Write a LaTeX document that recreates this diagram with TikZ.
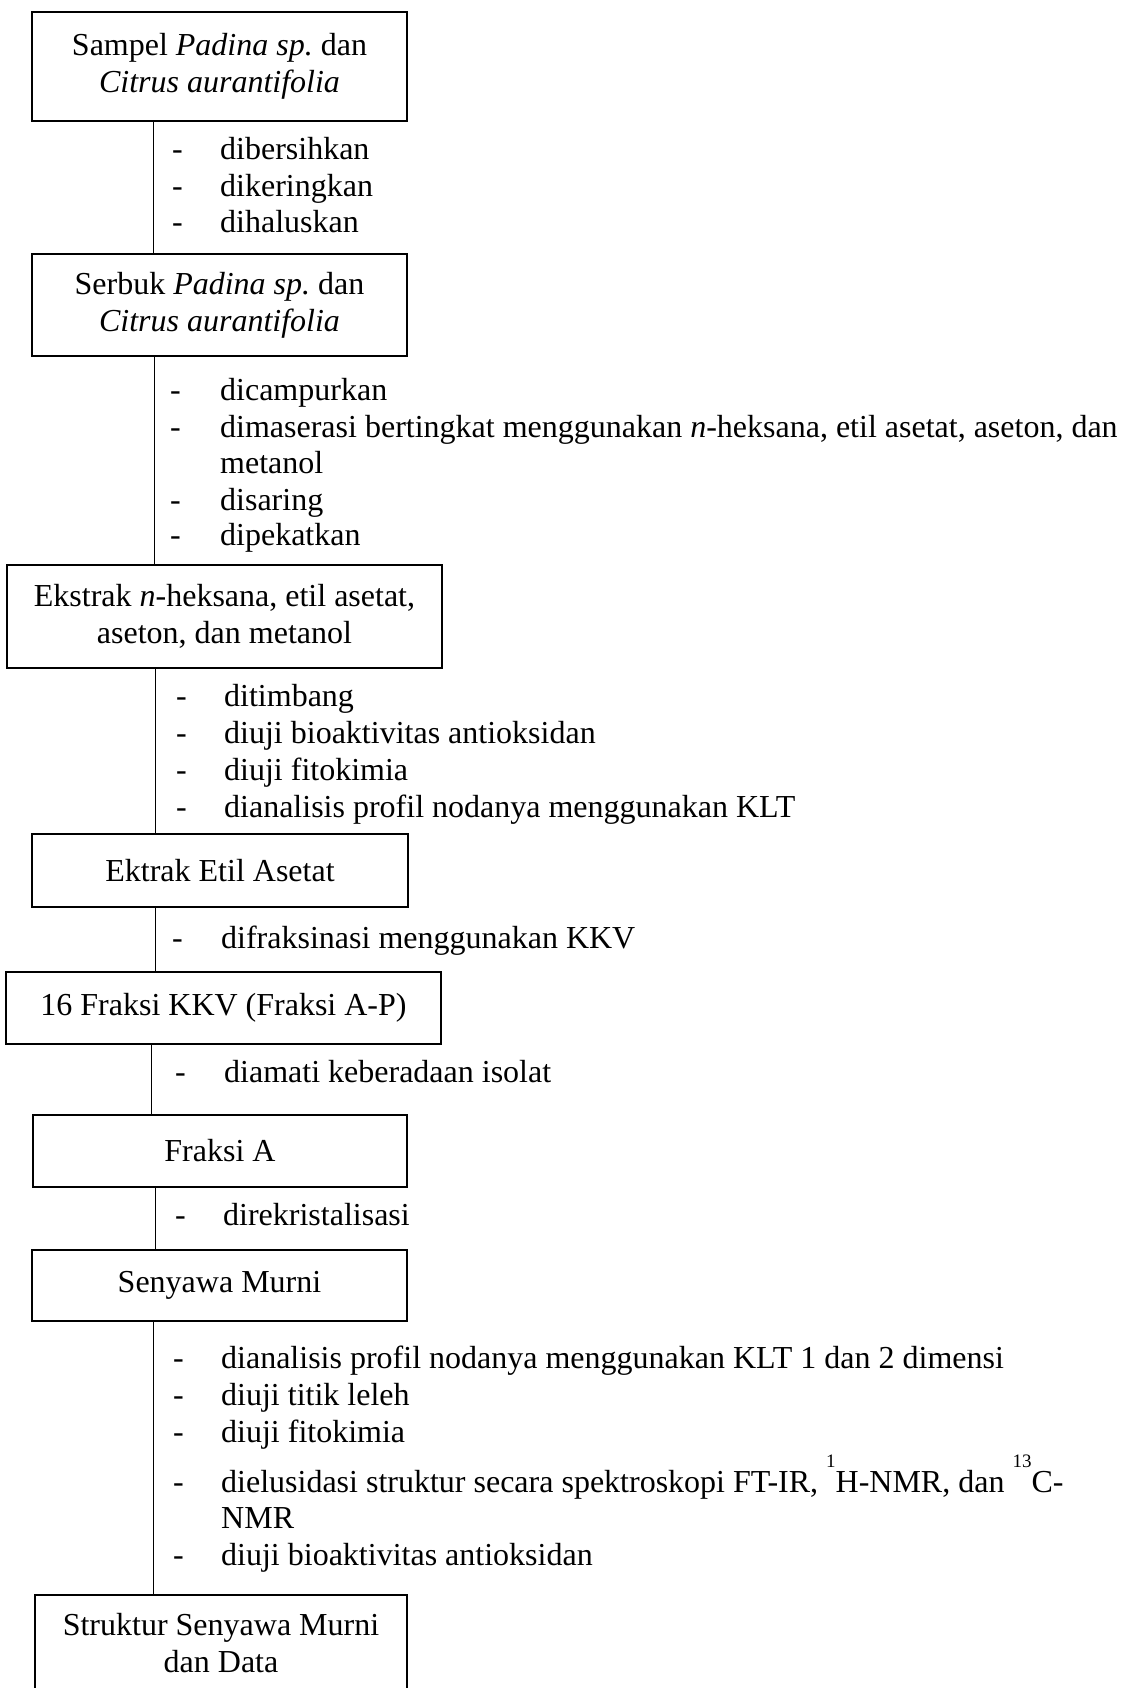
\documentclass[tikz,border=0pt]{standalone}
\usepackage{fontspec}
\setmainfont{Liberation Serif}
\frenchspacing
\newcommand{\dashitem}[2]{\makebox[#1][l]{-}#2}
\newcommand{\supnum}[1]{\raisebox{25pt}{\fontsize{19}{19}\selectfont #1}}
\begin{document}
\begin{tikzpicture}[x=1pt,y=-1pt,
  box/.style={draw, line width=1.6pt, inner sep=0pt, align=center, font=\fontsize{32}{37}\selectfont\frenchspacing},
  conn/.style={line width=1pt},
  li/.style={anchor=base west, inner sep=0pt, font=\fontsize{32}{37}\selectfont\frenchspacing}]
\useasboundingbox (0,0) rectangle (1122,1688);

% boxes
\node[box, minimum width=375pt, minimum height=109pt] (b1) at (219.5,66.5) {Sampel \textit{Padina sp.} dan\\ \textit{Citrus aurantifolia}};
\node[box, minimum width=375pt, minimum height=102pt] (b2) at (219.5,305) {Serbuk \textit{Padina sp.} dan\\ \textit{Citrus aurantifolia}};
\node[box, minimum width=435pt, minimum height=103pt] (b3) at (224.5,616.5) {Ekstrak \textit{n}-heksana, etil asetat,\\ aseton, dan metanol};
\node[box, minimum width=376pt, minimum height=73pt] (b4) at (220,870.5) {Ektrak Etil Asetat};
\node[box, minimum width=435pt, minimum height=72pt] (b5) at (223.5,1008) {16 Fraksi KKV (Fraksi A-P)};
\node[box, minimum width=374pt, minimum height=72pt] (b6) at (220,1151) {Fraksi A};
\node[box, minimum width=375pt, minimum height=71pt] (b7) at (219.5,1285.5) {Senyawa Murni};
\node[box, minimum width=372pt, minimum height=97pt] (b8) at (221,1643.5) {Struktur Senyawa Murni\\ dan Data};

% connectors
\draw[conn] ([xshift=-66.5pt]b1.south) -- ([xshift=-66.5pt]b2.north);
\draw[conn] ([xshift=-65.5pt]b2.south) -- ([xshift=-70.5pt]b3.north);
\draw[conn] ([xshift=-69.5pt]b3.south) -- ([xshift=-65pt]b4.north);
\draw[conn] ([xshift=-65pt]b4.south) -- ([xshift=-68.5pt]b5.north);
\draw[conn] ([xshift=-72.5pt]b5.south) -- ([xshift=-69pt]b6.north);
\draw[conn] ([xshift=-65pt]b6.south) -- ([xshift=-64.5pt]b7.north);
\draw[conn] ([xshift=-66.5pt]b7.south) -- ([xshift=-68pt]b8.north);

% list 1
\node[li] (l1a) at (172,160) {\dashitem{48pt}{dibersihkan}};
\node[li] (l1b) at (172,197) {\dashitem{48pt}{dikeringkan}};
\node[li] (l1c) at (172,233) {\dashitem{48pt}{dihaluskan}};
% list 2
\node[li] (l2a) at (170,400) {\dashitem{50pt}{dicampurkan}};
\node[li] (l2b) at (170,437) {\dashitem{50pt}{dimaserasi bertingkat menggunakan \textit{n}-heksana, etil asetat, aseton, dan}};
\node[li] (l2c) at (220,473) {metanol};
\node[li] (l2d) at (170,510) {\dashitem{50pt}{disaring}};
\node[li] (l2e) at (170,545) {\dashitem{50pt}{dipekatkan}};
% list 3
\node[li] (l3a) at (176,706) {\dashitem{48pt}{ditimbang}};
\node[li] (l3b) at (176,743) {\dashitem{48pt}{diuji bioaktivitas antioksidan}};
\node[li] (l3c) at (176,780) {\dashitem{48pt}{diuji fitokimia}};
\node[li] (l3d) at (176,817) {\dashitem{48pt}{dianalisis profil nodanya menggunakan KLT}};
% list 4
\node[li] (l4a) at (172,948) {\dashitem{49pt}{difraksinasi menggunakan KKV}};
% list 5
\node[li] (l5a) at (175,1082) {\dashitem{49pt}{diamati keberadaan isolat}};
% list 6
\node[li] (l6a) at (175,1225) {\dashitem{48pt}{direkristalisasi}};
% list 7
\node[li] (l7a) at (173,1368) {\dashitem{48pt}{dianalisis profil nodanya menggunakan KLT 1 dan 2 dimensi}};
\node[li] (l7b) at (173,1405) {\dashitem{48pt}{diuji titik leleh}};
\node[li] (l7c) at (173,1442) {\dashitem{48pt}{diuji fitokimia}};
\node[li] (l7d) at (173,1492) {\dashitem{48pt}{dielusidasi struktur secara spektroskopi FT-IR, \supnum{1}H-NMR, dan \supnum{13}C-}};
\node[li] (l7e) at (221,1528) {NMR};
\node[li] (l7f) at (173,1565) {\dashitem{48pt}{diuji bioaktivitas antioksidan}};
\end{tikzpicture}
\end{document}
